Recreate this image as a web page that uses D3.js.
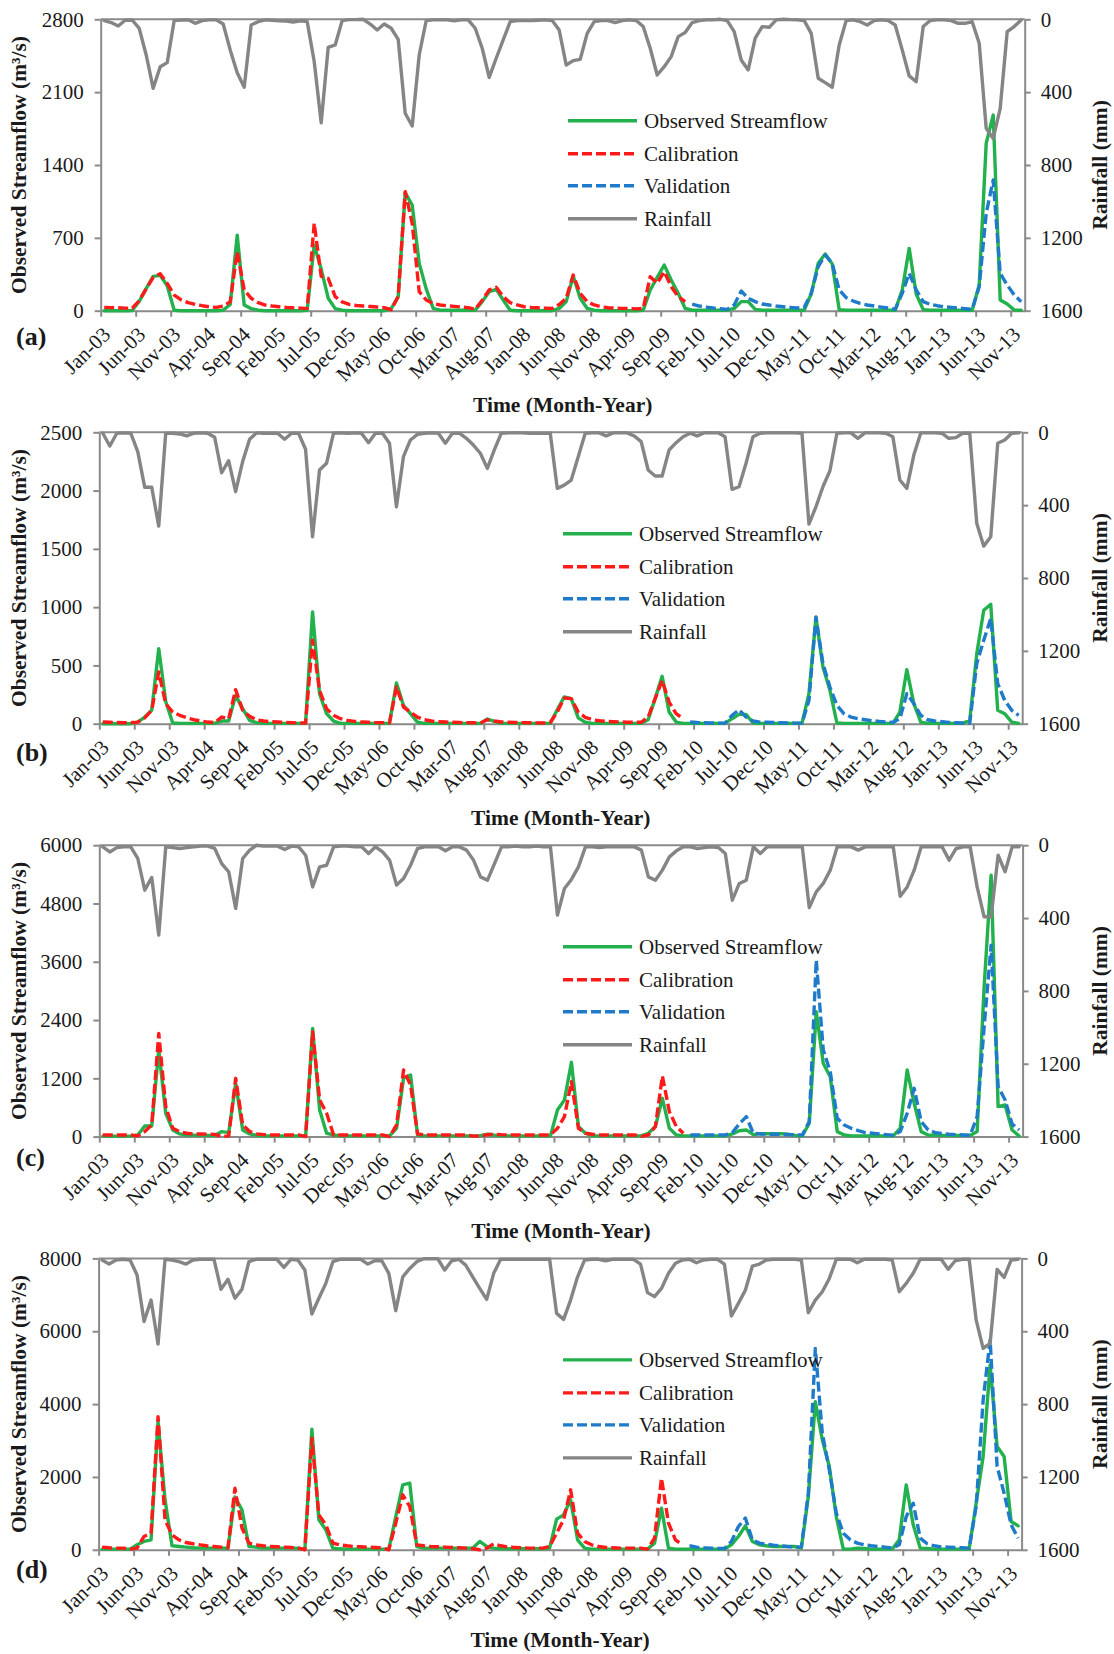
<!DOCTYPE html>
<html>
<head>
<meta charset="utf-8">
<script src="https://cdnjs.cloudflare.com/ajax/libs/d3/7.8.5/d3.min.js"></script>
<style>
  body { margin: 0; background: #ffffff; }
  svg { display: block; }
  text { font-family: "Liberation Serif", "Times New Roman", Times, serif; fill: #1a1a1a; }
</style>
</head>
<body>
<svg id="chart" width="1114" height="1654"></svg>
<script>
// ---- categories: monthly, Jan-2003 .. Dec-2013 ----
const monthNames = ["Jan","Feb","Mar","Apr","May","Jun","Jul","Aug","Sep","Oct","Nov","Dec"];
const yearLabels = ["03","04","05","06","07","08","09","10","11","12","13"];
const categories = yearLabels.flatMap(y => monthNames.map(m => `${m}-${y}`));
const calibrationMonths = categories.slice(0, 84);   // 2003-2009
const validationMonths  = categories.slice(84);      // 2010-2013

const seriesNames = ["Observed Streamflow", "Calibration", "Validation", "Rainfall"];
const panelLetters = ["(a)", "(b)", "(c)", "(d)"];
const flowTicksA = [0, 700, 1400, 2100, 2800];
const flowTicksB = [0, 500, 1000, 1500, 2000, 2500];
const flowTicksC = [0, 1200, 2400, 3600, 4800, 6000];
const flowTicksD = [0, 2000, 4000, 6000, 8000];
const rainTicks  = [0, 400, 800, 1200, 1600];
const xAxisTitle = "Time (Month-Year)";
const flowAxisTitle = "Observed Streamflow (m³/s)";
const rainAxisTitle = "Rainfall (mm)";

// ---- panel (a) ----
const observedA = [
  0,0,0,0,2,90,215,330,340,240,5,0,
  0,0,0,0,0,5,60,725,55,20,5,0,
  0,0,0,0,0,5,630,400,120,20,5,0,
  0,0,0,0,0,20,135,1135,1015,455,210,22,
  5,5,5,5,5,5,87,183,205,103,5,0,
  0,0,0,0,0,22,87,333,119,22,5,0,
  0,0,0,0,0,5,199,320,439,295,167,22,
  5,5,5,5,5,5,22,87,87,13,5,5,
  5,5,5,5,5,160,455,545,450,10,5,5,
  5,5,5,5,5,5,199,599,160,10,5,5,
  5,5,5,5,5,247,1608,1880,103,64,6,5];
const calibrationA = [
  32,30,28,25,25,95,210,320,355,263,150,103,
  77,61,48,38,32,45,85,567,199,119,77,54,
  45,38,32,28,25,22,840,330,310,135,85,60,
  50,45,40,35,30,10,135,1144,840,183,103,70,
  55,48,42,36,30,15,100,200,225,135,77,55,
  38,32,28,25,22,60,119,343,167,87,55,38,
  28,25,22,20,18,22,327,263,375,231,135,87];
const validationA = [
  64,45,35,26,19,13,55,189,119,87,64,55,
  45,38,32,26,32,167,423,535,455,199,125,93,
  70,55,45,35,26,13,167,359,199,87,61,48,
  38,32,26,19,13,231,936,1256,359,247,151,87];
const rainfallA = [
  7,18,37,5,4,50,196,379,260,238,7,4,
  3,22,7,3,3,26,168,293,373,31,13,3,
  5,8,10,15,8,13,232,568,154,141,7,2,
  2,0,26,59,26,49,110,516,586,196,7,3,
  3,3,8,3,3,49,159,319,214,113,13,7,
  7,7,5,3,7,59,251,227,220,77,13,7,
  7,18,7,3,7,40,159,306,260,205,95,73,
  18,7,3,3,0,7,68,223,278,104,40,44,
  3,0,2,3,7,77,324,348,373,141,7,3,
  13,31,7,3,7,31,168,311,342,40,7,3,
  3,7,22,22,13,132,599,654,489,68,40,4];

// ---- panel (b) ----
const observedB = [
  0,0,0,0,0,14,57,115,644,190,6,3,
  3,3,3,3,3,23,23,243,129,29,9,3,
  3,3,3,3,3,3,959,258,86,23,3,3,
  3,3,3,3,3,3,349,158,86,14,3,3,
  3,3,3,3,3,3,3,40,20,3,3,3,
  3,3,3,3,3,120,230,215,50,12,3,3,
  3,3,3,3,3,3,34,215,407,100,14,3,
  3,3,3,3,3,3,43,80,80,6,3,3,
  3,3,3,3,3,258,911,487,286,6,3,3,
  3,3,3,3,3,3,100,464,172,14,3,3,
  3,3,3,3,29,600,974,1025,115,86,14,3];
const calibrationB = [
  15,12,10,8,8,14,50,115,444,172,100,72,
  52,34,23,14,9,57,43,292,115,63,34,23,
  17,14,12,9,6,6,716,286,129,72,43,29,
  20,14,12,9,9,6,315,143,100,57,34,23,
  17,14,12,10,9,8,6,34,23,15,12,10,
  9,8,7,6,10,100,220,215,100,55,35,25,
  20,17,15,13,12,12,57,215,372,186,86,43];
const validationB = [
  14,10,8,6,5,5,72,120,57,23,14,12,
  10,8,6,5,5,200,916,515,315,158,86,57,
  43,34,26,20,14,11,43,258,172,72,34,23,
  17,11,8,6,6,516,716,902,344,200,115,72];
const rainfallB = [
  5,75,5,3,5,106,302,302,515,5,5,9,
  20,5,3,5,27,222,156,326,161,38,3,5,
  5,5,38,5,5,93,574,207,170,5,3,5,
  3,5,57,5,5,60,409,134,42,11,5,3,
  5,60,5,5,33,70,115,198,97,5,3,3,
  3,5,5,5,5,308,290,262,134,5,3,3,
  20,3,3,3,20,51,207,240,240,97,57,24,
  5,20,3,3,3,24,313,299,170,24,5,3,
  3,3,3,3,5,504,409,299,211,5,3,3,
  33,3,3,3,5,24,262,308,125,3,3,3,
  5,33,29,5,5,500,625,574,60,42,5,3];

// ---- panel (c) ----
const observedC = [
  10,10,10,10,10,34,219,219,1783,480,137,55,
  34,30,28,25,25,103,82,1097,137,55,27,14,
  14,14,14,14,14,14,2229,549,69,34,14,14,
  14,14,14,14,14,14,171,1200,1269,34,14,14,
  14,14,14,14,14,14,20,50,30,14,14,14,
  14,14,14,14,14,549,754,1529,206,69,14,14,
  14,14,14,14,14,14,69,206,789,171,34,14,
  14,14,14,14,14,14,55,120,137,40,60,60,
  60,60,50,25,14,274,2571,1509,1234,103,34,14,
  14,14,14,14,14,14,171,1371,686,103,34,25,
  25,25,25,25,25,103,3086,5383,617,651,137,14];
const calibrationC = [
  34,34,34,34,34,14,103,240,2126,617,171,103,
  69,55,55,50,45,0,14,1200,240,103,55,40,
  34,34,34,34,34,0,2160,754,480,34,34,34,
  34,34,34,34,34,0,240,1371,1063,55,34,34,
  34,34,34,34,34,10,15,40,50,40,34,34,
  34,34,34,34,34,171,411,1131,171,69,48,34,
  34,34,34,34,34,5,34,206,1248,514,206,69];
const validationC = [
  34,34,34,34,34,34,82,261,411,69,55,50,
  48,45,40,36,34,309,3634,1783,1337,377,240,171,
  123,82,69,55,41,27,103,480,994,309,137,82,
  62,48,41,34,27,411,2263,3943,1029,754,261,137];
const rainfallC = [
  9,37,13,9,9,73,247,177,494,9,13,18,
  13,9,5,5,18,101,146,347,73,27,0,5,
  5,5,24,5,9,55,229,119,110,9,5,5,
  9,9,46,9,37,82,219,183,110,18,9,9,
  9,31,9,9,27,82,174,192,101,9,9,5,
  9,9,5,9,9,384,238,188,119,9,9,13,
  9,9,9,9,9,27,174,192,137,64,31,9,
  9,18,13,9,13,46,302,210,192,9,46,9,
  9,9,9,9,9,342,256,210,137,9,9,9,
  27,9,9,9,9,9,280,229,137,9,9,9,
  9,82,18,9,9,229,393,393,55,146,9,9];

// ---- panel (d) ----
const observedD = [
  18,18,18,18,18,137,229,274,3520,1371,110,91,
  73,55,46,46,46,46,46,1450,1100,91,73,46,
  46,46,46,46,46,18,3310,823,549,46,27,18,
  18,18,18,18,18,18,914,1783,1829,91,46,46,
  46,46,46,46,46,46,229,91,46,30,30,30,
  30,30,30,30,46,841,960,1371,274,46,18,18,
  18,18,18,18,18,18,18,183,1143,46,18,18,
  18,18,18,18,18,18,137,366,658,229,137,110,
  91,91,91,91,46,1463,4069,3017,2286,914,18,18,
  46,37,18,18,18,18,274,1783,686,46,37,18,
  18,18,18,18,18,1280,2560,5074,2834,2560,777,658];
const calibrationD = [
  73,55,46,46,20,46,366,457,3657,823,411,274,
  201,165,137,110,91,73,55,1691,600,183,137,110,
  91,82,73,64,55,0,3063,960,686,183,137,110,
  91,82,73,64,55,0,731,1509,1189,137,110,91,
  82,73,64,55,46,30,0,46,165,110,73,64,
  55,46,46,46,91,457,823,1646,457,229,137,91,
  64,55,46,46,46,46,20,320,1966,731,274,137];
const validationD = [
  110,73,55,46,40,37,229,640,869,274,183,155,
  128,110,91,82,73,1554,5531,3200,2194,1006,457,274,
  183,137,110,91,73,46,137,914,1280,320,165,110,
  82,73,64,55,46,1189,4114,5760,2286,1554,686,320];
const rainfallD = [
  9,31,9,5,9,91,347,229,470,5,9,18,
  31,9,5,5,5,170,115,219,170,18,5,5,
  5,5,49,5,9,64,305,219,137,18,5,5,
  5,5,31,13,13,82,287,101,55,18,2,2,
  2,64,13,5,37,101,165,225,82,5,5,5,
  5,5,5,5,5,302,335,229,101,9,5,5,
  13,5,5,5,5,31,188,210,165,82,27,9,
  5,24,9,5,5,31,316,247,174,42,31,9,
  5,5,5,5,9,298,229,183,110,5,5,5,
  24,5,5,5,5,9,183,137,82,5,5,5,
  5,60,13,5,5,338,494,466,60,104,9,5];

// ---- styling ----
const AXIS_COLOR = "#8a8a8a";
const styles = {
  obs:  { color: "#22b14c", dash: null },
  cal:  { color: "#ff1a1a", dash: "10,4" },
  val:  { color: "#1f7bc9", dash: "10,4" },
  rain: { color: "#858585", dash: null }
};
const PLOT_H = 291.4;
const TEXT_SIZE = 21;
const TITLE_SIZE = 21.5;
const LINE_W = 3.4;

// panel layout: data arrays plus frame geometry
const panels = [
  { letter: panelLetters[0], obs: observedA, cal: calibrationA, val: validationA, rain: rainfallA,
    flowTicks: flowTicksA, top: 19.3, left: 100.7, right: 1024.7, letterDy: 34.5, titleDy: 101, legendX: 568 },
  { letter: panelLetters[1], obs: observedB, cal: calibrationB, val: validationB, rain: rainfallB,
    flowTicks: flowTicksB, top: 432.3, left: 99.3, right: 1022.2, letterDy: 37, titleDy: 101, legendX: 563 },
  { letter: panelLetters[2], obs: observedC, cal: calibrationC, val: validationC, rain: rainfallC,
    flowTicks: flowTicksC, top: 845.2, left: 99.3, right: 1022.6, letterDy: 29.5, titleDy: 101, legendX: 563 },
  { letter: panelLetters[3], obs: observedD, cal: calibrationD, val: validationD, rain: rainfallD,
    flowTicks: flowTicksD, top: 1258.4, left: 98.6, right: 1021.6, letterDy: 28.5, titleDy: 97.5, legendX: 563 }
];
const legendRows = [101.5, 134.5, 166.5, 199.5];

const svg = d3.select("#chart");
svg.append("rect").attr("width", 1114).attr("height", 1654).attr("fill", "#ffffff");

function styleAxis(g) {
  g.attr("font-family", null).attr("font-size", null);
  g.select(".domain").attr("stroke", AXIS_COLOR).attr("stroke-width", 2);
  g.selectAll(".tick line").attr("stroke", AXIS_COLOR).attr("stroke-width", 2);
  g.selectAll(".tick text").attr("font-size", TEXT_SIZE).attr("fill", "#1a1a1a");
}

panels.forEach(p => {
  const bottom = p.top + PLOT_H;
  const g = svg.append("g");

  const x = d3.scaleBand().domain(categories).range([p.left, p.right]).padding(0);
  const cx = m => x(m) + x.bandwidth() / 2;
  const xIdx = d3.scaleLinear().domain([0, categories.length]).range([p.left, p.right]);
  const yL = d3.scaleLinear().domain([0, d3.max(p.flowTicks)]).range([bottom, p.top]);
  const yR = d3.scaleLinear().domain([0, d3.max(rainTicks)]).range([p.top, bottom]);

  // frame line along the top (reversed rainfall axis origin)
  g.append("line")
    .attr("x1", p.left).attr("x2", p.right).attr("y1", p.top).attr("y2", p.top)
    .attr("stroke", AXIS_COLOR).attr("stroke-width", 2);

  // left axis
  g.append("g").attr("transform", `translate(${p.left},0)`)
    .call(d3.axisLeft(yL).tickValues(p.flowTicks).tickFormat(d3.format("d"))
      .tickSize(6).tickSizeOuter(0).tickPadding(11))
    .call(styleAxis);

  // right axis (rainfall, inverted)
  g.append("g").attr("transform", `translate(${p.right},0)`)
    .call(d3.axisRight(yR).tickValues(rainTicks).tickFormat(d3.format("d"))
      .tickSize(6).tickSizeOuter(0).tickPadding(10))
    .call(styleAxis);

  // bottom axis: ticks on category boundaries, labels on category centres
  const labelIdx = d3.range(0, categories.length, 5);
  g.append("g").attr("transform", `translate(0,${bottom})`)
    .call(d3.axisBottom(xIdx).tickValues(labelIdx).tickFormat(i => categories[i])
      .tickSize(6).tickSizeOuter(0))
    .call(styleAxis)
    .call(ax => ax.selectAll(".tick text")
      .attr("x", 0).attr("y", 0).attr("dy", 0)
      .attr("text-anchor", "end")
      .attr("transform", `translate(${x.bandwidth() / 2 + 7},25) rotate(-45)`));

  // series
  const lineL = d3.line().x(d => cx(d.m)).y(d => yL(d.v));
  const lineR = d3.line().x(d => cx(d.m)).y(d => yR(d.v));
  const zip = (months, vals) => months.map((m, i) => ({ m, v: vals[i] }));

  const drawPath = (data, gen, st) => {
    const path = g.append("path").datum(data)
      .attr("d", gen).attr("fill", "none")
      .attr("stroke", st.color).attr("stroke-width", LINE_W)
      .attr("stroke-linejoin", "round");
    if (st.dash) path.attr("stroke-dasharray", st.dash).attr("stroke-linecap", "butt");
    else path.attr("stroke-linecap", "round");
  };
  drawPath(zip(categories, p.obs), lineL, styles.obs);
  drawPath(zip(calibrationMonths, p.cal), lineL, styles.cal);
  drawPath(zip(validationMonths, p.val), lineL, styles.val);
  drawPath(zip(categories, p.rain), lineR, styles.rain);

  // legend
  const legendStyles = [styles.obs, styles.cal, styles.val, styles.rain];
  seriesNames.forEach((name, k) => {
    const y = p.top + legendRows[k];
    const ln = g.append("line")
      .attr("x1", p.legendX).attr("x2", p.legendX + 69).attr("y1", y).attr("y2", y)
      .attr("stroke", legendStyles[k].color).attr("stroke-width", LINE_W);
    if (legendStyles[k].dash) ln.attr("stroke-dasharray", legendStyles[k].dash);
    g.append("text").attr("x", p.legendX + 76).attr("y", y + 7)
      .attr("font-size", TEXT_SIZE).text(name);
  });

  // axis titles
  g.append("text")
    .attr("transform", `translate(20,${p.top + PLOT_H / 2}) rotate(-90)`)
    .attr("text-anchor", "middle").attr("dy", "0.3em")
    .attr("font-size", TITLE_SIZE).attr("font-weight", "bold")
    .text(flowAxisTitle);
  g.append("text")
    .attr("transform", `translate(1101,${p.top + PLOT_H / 2}) rotate(-90)`)
    .attr("text-anchor", "middle").attr("dy", "0.3em")
    .attr("font-size", TITLE_SIZE).attr("font-weight", "bold")
    .text(rainAxisTitle);
  g.append("text")
    .attr("x", (p.left + p.right) / 2).attr("y", bottom + p.titleDy)
    .attr("text-anchor", "middle")
    .attr("font-size", TITLE_SIZE).attr("font-weight", "bold")
    .text(xAxisTitle);

  // panel letter
  g.append("text")
    .attr("x", 16).attr("y", bottom + p.letterDy)
    .attr("font-size", 26).attr("font-weight", "bold")
    .text(p.letter);
});
</script>
</body>
</html>
